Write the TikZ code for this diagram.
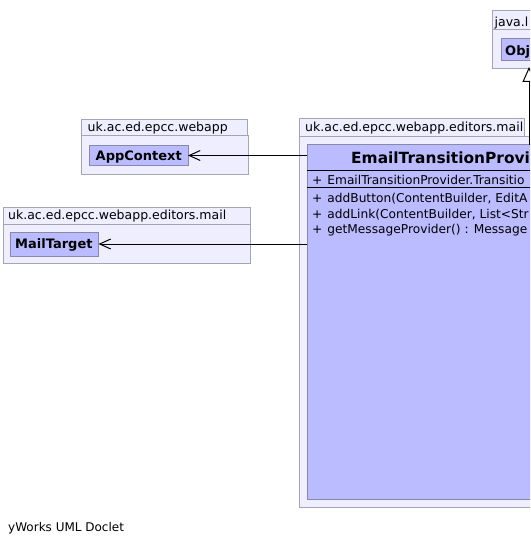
\documentclass[tikz,border=0pt]{standalone}
\usepackage{fontspec}
\setmainfont{DejaVu Sans}
\usetikzlibrary{arrows.meta,positioning}
\definecolor{pkgfill}{HTML}{EEEEFF}
\definecolor{pkgdraw}{HTML}{A4A4B4}
\definecolor{clsfill}{HTML}{BBBBFF}
\definecolor{clsdraw}{HTML}{8888A8}
\tikzset{
  box/.style={rectangle, inner sep=0pt, outer sep=0pt, anchor=north west},
  pkgtab/.style={box, draw=pkgdraw, fill=pkgfill, line width=1pt},
  pkgbody/.style={box, draw=pkgdraw, fill=pkgfill, line width=1pt},
  clsbox/.style={box, draw=clsdraw, fill=clsfill, line width=1pt},
  lbl/.style={inner sep=0pt, anchor=base west, font=\fontsize{12.5}{14}\selectfont},
  mlbl/.style={inner sep=0pt, anchor=base west, font=\fontsize{12.2}{14}\selectfont},
  blbl/.style={lbl, font=\fontsize{13}{15}\selectfont\bfseries},
  assoc/.style={draw=black, line width=1pt, -{Straight Barb[length=11pt,width=10pt,line width=1pt]}},
  gen/.style={draw=black, line width=1pt, -{Triangle[open,length=15pt,width=13pt,line width=1pt,fill=white]}}
}
\begin{document}
\begin{tikzpicture}[x=1pt,y=-1pt]
\useasboundingbox (0,0) rectangle (530,545);
\clip (0,0) rectangle (530,545);
\fill[white] (0,0) rectangle (530,545);

% java.lang package
\node[pkgtab, minimum width=74pt, minimum height=19pt] (javatab) at (492,11) {};
\node[pkgbody, minimum width=74pt, minimum height=39pt] (javapkg) at (492,30) {};
\node[lbl] (javalbl) at (494.5,26.5) {java.l};
\node[clsbox, minimum width=56pt, minimum height=22pt] (obj) at (501,39) {};
\node[blbl] (objlbl) at (505,55.5) {Obj};

% uk.ac.ed.epcc.webapp package
\node[pkgtab, minimum width=166pt, minimum height=16pt] (apptab) at (81,120) {};
\node[pkgbody, minimum width=167pt, minimum height=39pt] (apppkg) at (81,136) {};
\node[lbl] (applbl) at (87.5,131.5) {uk.ac.ed.epcc.webapp};
\node[clsbox, minimum width=99pt, minimum height=20pt] (appctx) at (89,145.5) {};
\node[blbl] (appctxlbl) at (95.5,160.5) {AppContext};

% left uk.ac.ed.epcc.webapp.editors.mail package
\node[pkgtab, minimum width=247pt, minimum height=17pt] (mailtab) at (3,207) {};
\node[pkgbody, minimum width=247pt, minimum height=39pt] (mailpkg) at (3,224) {};
\node[lbl] (maillbl) at (8,219) {uk.ac.ed.epcc.webapp.editors.mail};
\node[clsbox, minimum width=88pt, minimum height=24pt] (mailtgt) at (10.5,232) {};
\node[blbl] (mailtgtlbl) at (15,248.5) {MailTarget};

% big uk.ac.ed.epcc.webapp.editors.mail package
\node[pkgtab, minimum width=225pt, minimum height=18pt] (bigtab) at (299,119) {};
\node[pkgbody, minimum width=450pt, minimum height=370pt] (bigpkg) at (299,137) {};
\node[lbl] (biglbl) at (305,131.5) {uk.ac.ed.epcc.webapp.editors.mail};

% EmailTransitionProvider class
\node[clsbox, minimum width=444pt, minimum height=354pt] (etp) at (307,145) {};
\draw[black, line width=1pt] (etp.west |- 0,171) -- (etp.east |- 0,171);
\draw[black, line width=1pt] (etp.west |- 0,188) -- (etp.east |- 0,188);
\node[inner sep=0pt, anchor=base west, font=\fontsize{15.4}{18}\selectfont\bfseries] (etptitle) at (351,164) {EmailTransitionProvi};
\node[mlbl] (attr) at (312,184.5) {+\hspace{5pt}EmailTransitionProvider.Transitio};
\node[mlbl] (m1) at (312,202) {+\hspace{5pt}addButton(ContentBuilder, EditA};
\node[mlbl] (m2) at (312,218) {+\hspace{5pt}addLink(ContentBuilder, List<Str};
\node[mlbl] (m3) at (312,233.5) {+\hspace{5pt}getMessageProvider() : Message};

% connectors
\draw[assoc] (etp.west |- appctx.east) -- (appctx.east);
\draw[assoc] (etp.west |- mailtgt.east) -- (mailtgt.east);
\draw[gen] (etp.north -| obj.south) -- ([yshift=2pt]javapkg.south);

% footer
\node[lbl, font=\fontsize{12}{14}\selectfont] (footer) at (8,531) {yWorks UML Doclet};
\end{tikzpicture}
\end{document}
